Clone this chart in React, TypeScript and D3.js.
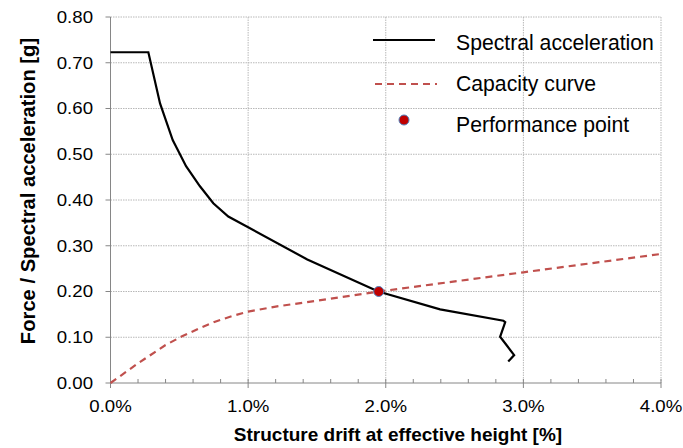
import * as d3 from "d3";
import React from "react";

// spectral acceleration (demand) curve: drift [%], acceleration [g]
const specDrift = [0, 0.275, 0.36, 0.452, 0.549, 0.65, 0.747, 0.856, 1.43, 1.946, 2.395, 2.855, 2.868, 2.831, 2.933, 2.89];
const specAcc = [0.723, 0.723, 0.611, 0.531, 0.474, 0.43, 0.393, 0.364, 0.27, 0.2, 0.161, 0.136, 0.133, 0.101, 0.061, 0.047];

// capacity curve
const capDrift = [0, 0.2, 0.4, 0.52, 0.65, 0.76, 0.88, 1.0, 1.2, 1.41, 1.95, 3.0, 4.0];
const capForce = [0, 0.043, 0.083, 0.102, 0.12, 0.134, 0.146, 0.156, 0.167, 0.176, 0.2, 0.242, 0.282];

const perfPoint = { drift: 1.949, acc: 0.2 };

const xTicks = [0, 1, 2, 3, 4];
const yTicks = [0, 0.1, 0.2, 0.3, 0.4, 0.5, 0.6, 0.7, 0.8];
const legendLabels = ["Spectral acceleration", "Capacity curve", "Performance point"];

const W = 683;
const H = 448;
const margin = { l: 110.5, t: 17, r: 22, b: 65 };
const FONT = "Arial, 'Liberation Sans', sans-serif";

export default function App() {
  const iw = W - margin.l - margin.r;
  const ih = H - margin.t - margin.b;
  const x = d3.scaleLinear().domain([0, 4]).range([0, iw]);
  const y = d3.scaleLinear().domain([0, 0.8]).range([ih, 0]);

  const spec = specDrift.map((d, i) => [d, specAcc[i]] as [number, number]);
  const cap = capDrift.map((d, i) => [d, capForce[i]] as [number, number]);
  const line = d3
    .line<[number, number]>()
    .x((d) => x(d[0]))
    .y((d) => y(d[1]));

  const minor = d3.range(0, 4.0001, 0.2);

  return (
    <svg width={W} height={H} style={{ position: "absolute", left: 0, top: 0 }}>
      <rect width={W} height={H} fill="#fff" />
      <g transform={`translate(${margin.l},${margin.t})`}>
        {/* grid */}
        {yTicks.slice(1).map((t) => (
          <line key={"gy" + t} x1={0} x2={iw} y1={y(t)} y2={y(t)} stroke="#b8b8b8" strokeDasharray="1.5,1" />
        ))}
        {xTicks.slice(1).map((t) => (
          <line key={"gx" + t} x1={x(t)} x2={x(t)} y1={0} y2={ih} stroke="#b8b8b8" strokeDasharray="1.5,1" />
        ))}
        {/* axes */}
        <line x1={0} x2={0} y1={0} y2={ih} stroke="#868686" />
        <line x1={0} x2={iw} y1={ih} y2={ih} stroke="#868686" />
        {yTicks.map((t) => (
          <g key={"yt" + t}>
            <line x1={-5} x2={0} y1={y(t)} y2={y(t)} stroke="#868686" />
            <text
              transform={`translate(-17.5,${y(t)}) scale(1.13,1)`}
              dy="0.36em"
              textAnchor="end"
              fontSize={16.5}
              fontFamily={FONT}
              fill="#000"
            >
              {t.toFixed(2)}
            </text>
          </g>
        ))}
        {minor.map((t, i) => (
          <line key={"mt" + i} x1={x(t)} x2={x(t)} y1={ih - 4} y2={i % 5 === 0 ? ih + 5 : ih} stroke="#868686" />
        ))}
        {xTicks.map((t) => (
          <text
            key={"xt" + t}
            transform={`translate(${x(t)},${ih + 29}) scale(1.13,1)`}
            textAnchor="middle"
            fontSize={16.5}
            fontFamily={FONT}
            fill="#000"
          >
            {t.toFixed(1) + "%"}
          </text>
        ))}
        {/* series */}
        <path d={line(cap) ?? ""} fill="none" stroke="#c0504d" strokeWidth={2.2} strokeDasharray="7,5" />
        <path d={line(spec) ?? ""} fill="none" stroke="#000" strokeWidth={2.2} strokeLinejoin="miter" />
        <circle cx={x(perfPoint.drift)} cy={y(perfPoint.acc)} r={5} fill="#c00000" stroke="#4f81bd" strokeWidth={1} />
      </g>
      {/* axis titles */}
      <text x={398} y={441} textAnchor="middle" fontSize={19} fontWeight="bold" fontFamily={FONT}>
        Structure drift at effective height [%]
      </text>
      <text
        transform="translate(35,191) rotate(-90)"
        textAnchor="middle"
        fontSize={20.2}
        fontWeight="bold"
        fontFamily={FONT}
      >
        Force / Spectral acceleration [g]
      </text>
      {/* legend */}
      <g>
        <line x1={373} x2={435} y1={40} y2={40} stroke="#000" strokeWidth={2.2} />
        <line x1={375} x2={437} y1={84} y2={84} stroke="#c0504d" strokeWidth={2} strokeDasharray="7,5" />
        <circle cx={404} cy={120} r={5} fill="#c00000" stroke="#4f81bd" strokeWidth={1} />
        {legendLabels.map((l, i) => (
          <text key={l} x={456} y={50 + i * 41} fontSize={21.2} fontFamily={FONT}>
            {l}
          </text>
        ))}
      </g>
    </svg>
  );
}
